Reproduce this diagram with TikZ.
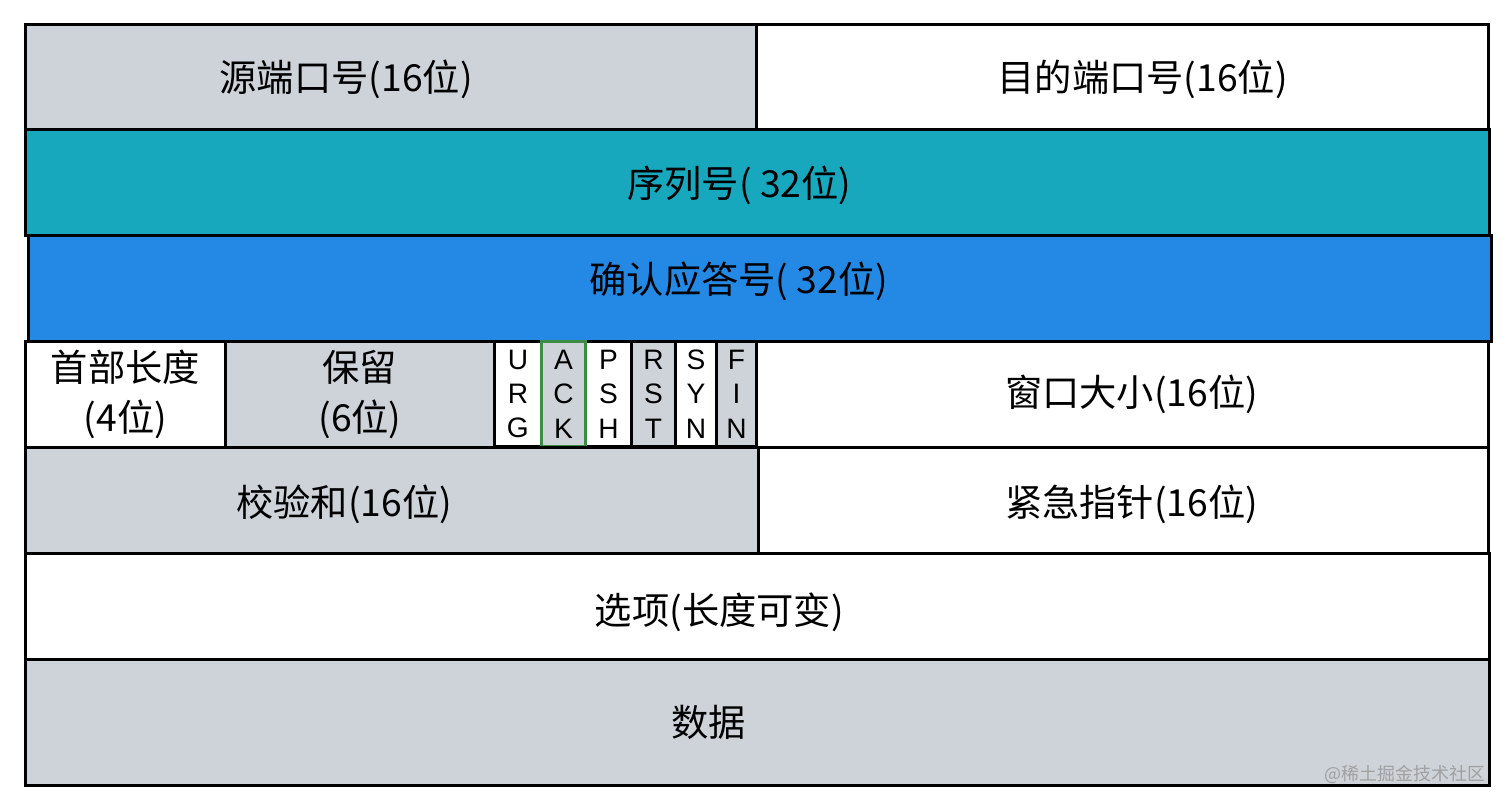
\documentclass[tikz,border=0pt]{standalone}
\usepackage{fontspec}
\setmainfont{Noto Sans CJK SC}
\newfontfamily\flagfont{Liberation Sans}
\usetikzlibrary{positioning}
\definecolor{fieldgray}{RGB}{206,211,218}
\definecolor{seqteal}{RGB}{23,168,190}
\definecolor{ackblue}{RGB}{35,137,229}
\definecolor{ackgreen}{RGB}{60,140,70}
\definecolor{markgray}{RGB}{160,160,160}

\begin{document}
\begin{tikzpicture}[x=0.01cm, y=-0.01cm,
    field/.style={draw, line width=0.8pt, anchor=north west, inner sep=0pt, align=center,
        font=\fontsize{10.6}{14.2}\selectfont},
    fieldtext/.style={inner sep=0pt, font=\fontsize{10.6}{14.2}\selectfont},
    flagbox/.style={field, minimum height=1.05cm, font=\flagfont\fontsize{8}{9.8}\selectfont}]
    \useasboundingbox (0,0) rectangle (1512,807);

    % row 1: ports
    \node [field, fill=fieldgray, minimum width=7.31cm, minimum height=1.05cm,
        label={[fieldtext, name=srctxt, shift={(-45,2)}]center:源端口号(16位)}] (src) at (24,23) {};
    \node [field, fill=white, minimum width=7.32cm, minimum height=1.05cm,
        label={[fieldtext, name=dsttxt, shift={(20,2)}]center:目的端口号(16位)}] (dst) at (755,23) {};

    % rows 2-3: sequence and ack numbers
    \node [field, fill=seqteal, minimum width=14.63cm, minimum height=1.06cm,
        label={[fieldtext, name=seqtxt, shift={(-18,3)}]center:序列号( 32位)}] (seq) at (24,128) {};
    \node [field, fill=ackblue, minimum width=14.62cm, minimum height=1.06cm,
        label={[fieldtext, name=acktxt, shift={(-21,-7)}]center:确认应答号( 32位)}] (ack) at (27,234) {};

    % row 4: header length, reserved, flags, window
    \node [field, fill=white, minimum width=2.00cm, minimum height=1.06cm] (hlen) at (24,340) {首部长度\\(4位)};
    \node [field, fill=fieldgray, minimum width=2.69cm, minimum height=1.06cm] (resv) at (224,340) {保留\\(6位)};
    \foreach \x/\w/\col/\txt [count=\i] in {493/47/white/{U\\R\\G}, 584/46/white/{P\\S\\H},
        630/44/fieldgray/{R\\S\\T}, 674/41/white/{S\\Y\\N}, 715/40/fieldgray/{F\\I\\N}} {
        \node [flagbox, fill=\col, minimum width=\w*0.01cm] (flag\i) at (\x,340) {\txt};
    }
    \node [flagbox, fill=fieldgray, draw=ackgreen, minimum width=0.44cm] (flagack) at (540,340) {A\\C\\K};
    \node [field, fill=white, minimum width=7.32cm, minimum height=1.06cm,
        label={[fieldtext, name=wintxt, shift={(9,0)}]center:窗口大小(16位)}] (win) at (755,340) {};

    % row 5: checksum and urgent pointer
    \node [field, fill=fieldgray, minimum width=7.33cm, minimum height=1.06cm,
        label={[fieldtext, name=csumtxt, shift={(-48,4)}]center:校验和(16位)}] (csum) at (24,446) {};
    \node [field, fill=white, minimum width=7.30cm, minimum height=1.06cm,
        label={[fieldtext, name=urgptxt, shift={(8,4)}]center:紧急指针(16位)}] (urgp) at (757,446) {};

    % rows 6-7: options and data
    \node [field, fill=white, minimum width=14.63cm, minimum height=1.06cm,
        label={[fieldtext, name=optstxt, shift={(-38,6)}]center:选项(长度可变)}] (opts) at (24,552) {};
    \node [field, fill=fieldgray, minimum width=14.63cm, minimum height=1.26cm,
        label={[fieldtext, name=datatxt, shift={(-49,0)}]center:数据}] (data) at (24,658) {};

    \node [anchor=south east, inner sep=0pt, text=markgray, font=\fontsize{5.1}{6}\selectfont] (mark) at (1486,784) {@稀土掘金技术社区};
\end{tikzpicture}
\end{document}
